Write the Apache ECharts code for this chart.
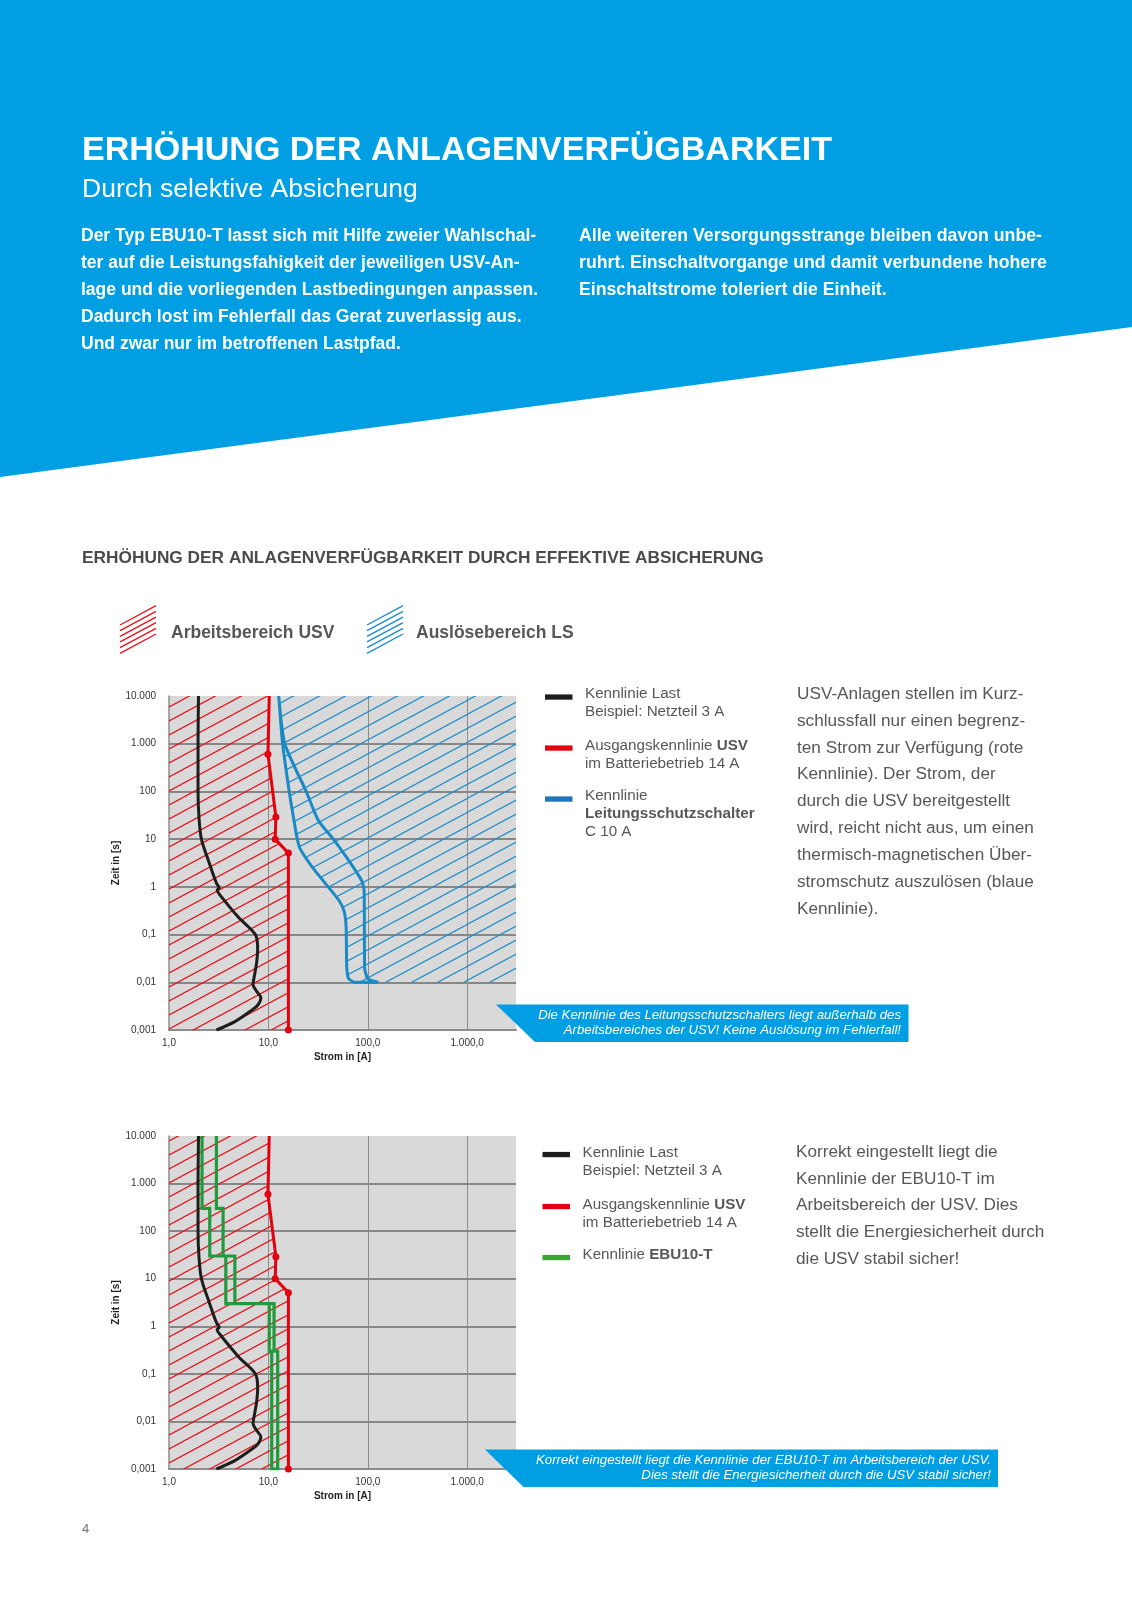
<!DOCTYPE html>
<html><head><meta charset="utf-8">
<script src="https://cdn.jsdelivr.net/npm/echarts@6/dist/echarts.min.js"></script>
<style>html,body{margin:0;padding:0;background:#fff}#c{width:1132px;height:1600px}</style>
</head><body><div id="c"></div>
<script>
// ---- axis ticks ----
const xTickLabels = ['1,0', '10,0', '100,0', '1.000,0'];          // exponents 0..3
const yTickLabels = ['0,001', '0,01', '0,1', '1', '10', '100', '1.000', '10.000']; // exponents -3..4
const xMin = 1, xMax = 3100, yMin = 0.001, yMax = 10000;
const lsBottom = 0.01;

// ---- load curve (Netzteil 3 A) ----
const loadCurrent = [1.98, 1.96, 1.96, 2.0, 2.12, 2.55, 3.0, 3.2, 3.05, 3.25, 5.0, 7.4, 7.8, 7.6, 7.2, 7.0, 7.6, 8.4, 7.8, 6.8, 4.6, 3.0];
const loadTime    = [10000, 1000, 100, 30, 10, 3.1, 1.2, 0.95, 0.85, 0.68, 0.23, 0.1, 0.05, 0.025, 0.013, 0.009, 0.0065, 0.0047, 0.0033, 0.0026, 0.0015, 0.001];

// ---- USV output characteristic ----
const usvCurrent = [10.2, 9.9, 11.9, 11.7, 15.9, 15.9];
const usvTime    = [10000, 600, 29, 10, 5.1, 0.001];

// ---- LS C10A band ----
const lsLowCurrent = [12.7, 13.9, 16.2, 17.8, 19.2, 20.7, 28, 40, 52, 58, 60.5, 61, 61.5, 64, 74];
const lsLowTime    = [10000, 1000, 100, 30, 12, 6.5, 2.5, 1.0, 0.5, 0.3, 0.15, 0.05, 0.02, 0.012, 0.01];
const lsHighCurrent = [12.7, 14.6, 24, 31.7, 45, 62, 80, 88, 92, 92.5, 93, 100, 127];
const lsHighTime    = [10000, 1000, 100, 25, 10, 4, 1.8, 1.27, 0.8, 0.1, 0.02, 0.012, 0.01];

// ---- EBU10-T band (left edge down, right edge up) ----
const ebuCurrent = [2.15, 2.15, 2.57, 2.57, 3.73, 3.73, 10.2, 10.2, 10.8, 10.8, 12.4, 12.4, 11.4, 11.4, 4.6, 4.6, 3.5, 3.5, 3.0, 3.0];
const ebuTime    = [10000, 300, 300, 30, 30, 3, 3, 0.3, 0.3, 0.001, 0.001, 0.3, 0.3, 3, 3, 30, 30, 300, 300, 10000];

const F = '"Liberation Sans", Arial, Helvetica, sans-serif';
const BLUE = '#009fe3';
const GRAYTXT = '#575756';

const pts = (xs, ys) => xs.map((x, i) => [x, ys[i]]);

function expLabel(v, labels, minExp) {
  const e = Math.log10(v), r = Math.round(e);
  if (Math.abs(e - r) > 1e-6) return '';
  const s = labels[r - minExp];
  return s === undefined ? '' : s;
}

function hatch(color, w) {
  const W = 26, H = 14;
  const cv = document.createElement('canvas'); cv.width = W; cv.height = H;
  const ctx = cv.getContext('2d');
  ctx.strokeStyle = color; ctx.lineWidth = w;
  [[0,0],[W,0],[-W,0],[0,H],[0,-H]].forEach(([dx,dy]) => {
    ctx.beginPath(); ctx.moveTo(dx, H + dy); ctx.lineTo(W + dx, dy); ctx.stroke();
  });
  return { image: cv, repeat: 'repeat' };
}
const redHatch = hatch('#e6141e', 1.25);
const blueHatch = hatch('#1b8dcc', 1.15);

function areaSeries(gi, poly, fill) {
  return {
    type: 'custom', xAxisIndex: gi, yAxisIndex: gi, silent: true, z: 1, data: [[1, 1]],
    renderItem: (params, api) => ({
      type: 'polygon',
      shape: { points: poly.map(p => api.coord(p)) },
      style: { fill: fill, stroke: 'none' }
    })
  };
}

function xAxisCfg(gi) {
  return {
    type: 'log', logBase: 10, gridIndex: gi, min: xMin, max: xMax,
    name: 'Strom in [A]', nameLocation: 'middle', nameGap: 22,
    nameTextStyle: { fontWeight: 'bold', fontSize: 10, color: '#222', fontFamily: F },
    axisLine: { show: true, onZero: false, lineStyle: { color: '#8c8c8c', width: 2 } },
    axisTick: { show: false },
    axisLabel: { margin: 8, fontSize: 10, color: '#333', fontFamily: F, formatter: v => expLabel(v, xTickLabels, 0) },
    splitLine: { show: true, showMinLine: false, showMaxLine: false, lineStyle: { color: '#8c8c8c', width: 1 } }
  };
}
function yAxisCfg(gi) {
  return {
    type: 'log', logBase: 10, gridIndex: gi, min: yMin, max: yMax,
    name: 'Zeit in [s]', nameLocation: 'middle', nameGap: 39, nameRotate: 90,
    nameTextStyle: { fontWeight: 'bold', fontSize: 10, color: '#222', fontFamily: F },
    axisLine: { show: true, onZero: false, lineStyle: { color: '#8c8c8c', width: 1.5 } },
    axisTick: { show: false },
    axisLabel: { margin: 13, fontSize: 10, color: '#333', fontFamily: F, formatter: v => expLabel(v, yTickLabels, -3) },
    splitLine: { show: true, showMinLine: false, showMaxLine: false, lineStyle: { color: '#878787', width: 2 } }
  };
}

function lineSeries(gi, data, color, extra) {
  return Object.assign({
    type: 'line', xAxisIndex: gi, yAxisIndex: gi, data: data, symbol: 'none', silent: true, z: 3,
    lineStyle: { color: color, width: 3 }, itemStyle: { color: color }
  }, extra || {});
}

const usvData = pts(usvCurrent, usvTime).map((p, i) => i === 0 ? { value: p, symbol: 'none' } : { value: p });
const redPoly = [[xMin, yMax]].concat(pts(usvCurrent, usvTime), [[xMin, yMin]]);
const lsLowPts = pts(lsLowCurrent, lsLowTime);
const lsHighPts = pts(lsHighCurrent, lsHighTime);
const bluePoly = lsLowPts.concat([[xMax, lsBottom], [xMax, yMax]]);
const lsBand = lsLowPts.concat(lsHighPts.slice().reverse());

const series = [
  areaSeries(0, redPoly, redHatch),
  areaSeries(0, bluePoly, blueHatch),
  lineSeries(0, pts(loadCurrent, loadTime), '#1d1d1b', { smooth: 0.3 }),
  lineSeries(0, lsBand, '#1a8ac6', { smooth: 0.2 }),
  lineSeries(0, usvData, '#e3000f', { symbol: 'circle', symbolSize: 7, showAllSymbol: true, z: 4 }),
  areaSeries(1, redPoly, redHatch),
  lineSeries(1, pts(loadCurrent, loadTime), '#1d1d1b', { smooth: 0.3 }),
  lineSeries(1, pts(ebuCurrent, ebuTime), '#1f9b3b', { lineStyle: { color: '#1f9b3b', width: 3.2, join: 'miter', cap: 'butt' } }),
  lineSeries(1, usvData, '#e3000f', { symbol: 'circle', symbolSize: 7, showAllSymbol: true, z: 4 })
];

// ---- graphic (page decoration / text) ----
function txt(x, y, text, font, fill, extra) {
  return Object.assign({ type: 'text', x: x, y: y, z: 50,
    style: Object.assign({ text: text, font: font, fill: fill, align: 'left', verticalAlign: 'top' }, extra || {}) });
}
function richTxt(x, y, text, size, lh) {
  const base = { fontSize: size, fontFamily: F, fill: GRAYTXT, lineHeight: lh };
  return { type: 'text', x: x, y: y, z: 50, style: { text: text, fill: GRAYTXT, fontSize: size, fontFamily: F, lineHeight: lh, verticalAlign: 'top',
    rich: { n: base, b: Object.assign({}, base, { fontWeight: 'bold' }) } } };
}
function hatchIcon(x0, color) {
  const arr = [];
  for (let i = 0; i < 6; i++) {
    arr.push({ type: 'line', z: 50, shape: { x1: x0, y1: 625 + i * 5.66, x2: x0 + 36, y2: 605.7 + i * 5.66 }, style: { stroke: color, lineWidth: 1.4 } });
  }
  return arr;
}
function bar(x, y, color) {
  return { type: 'rect', z: 50, shape: { x: x, y: y - 2.6, width: 27.5, height: 5.3 }, style: { fill: color } };
}

const elements = [
  { type: 'polygon', z: 0, shape: { points: [[0, 0], [1132, 0], [1132, 327], [0, 477]] }, style: { fill: BLUE } },
  txt(82, 150.5, 'ERHÖHUNG DER ANLAGENVERFÜGBARKEIT', 'bold 34px ' + F, '#fff', { verticalAlign: 'middle' }),
  txt(82, 189.5, 'Durch selektive Absicherung', '26.5px ' + F, '#fff', { verticalAlign: 'middle' }),
  txt(81, 222.5, 'Der Typ EBU10-T lasst sich mit Hilfe zweier Wahlschal-\nter auf die Leistungsfahigkeit der jeweiligen USV-An-\nlage und die vorliegenden Lastbedingungen anpassen.\nDadurch lost im Fehlerfall das Gerat zuverlassig aus.\nUnd zwar nur im betroffenen Lastpfad.', 'bold 17.5px ' + F, '#fff', { lineHeight: 27 }),
  txt(579, 222.5, 'Alle weiteren Versorgungsstrange bleiben davon unbe-\nruhrt. Einschaltvorgange und damit verbundene hohere\nEinschaltstrome toleriert die Einheit.', 'bold 17.7px ' + F, '#fff', { lineHeight: 27 }),
  txt(82, 558.5, 'ERHÖHUNG DER ANLAGENVERFÜGBARKEIT DURCH EFFEKTIVE ABSICHERUNG', 'bold 17.3px ' + F, '#4a4a49', { verticalAlign: 'middle' }),
  ...hatchIcon(120, '#e6141e'),
  ...hatchIcon(367, '#1b8dcc'),
  txt(171, 633, 'Arbeitsbereich USV', 'bold 17.5px ' + F, GRAYTXT, { verticalAlign: 'middle' }),
  txt(416, 633, 'Auslösebereich LS', 'bold 17.5px ' + F, GRAYTXT, { verticalAlign: 'middle' }),
  // legend chart 1
  bar(545, 697, '#1d1d1b'), bar(545, 748, '#e3000f'), bar(545, 799, '#1f74bb'),
  richTxt(585, 685, '{n|Kennlinie Last}\n{n|Beispiel: Netzteil 3 A}', 15.2, 18),
  richTxt(585, 737, '{n|Ausgangskennlinie }{b|USV}\n{n|im Batteriebetrieb 14 A}', 15.2, 18),
  richTxt(585, 787, '{n|Kennlinie}\n{b|Leitungsschutzschalter}\n{n|C 10 A}', 15.2, 18),
  txt(797, 680.6, 'USV-Anlagen stellen im Kurz-\nschlussfall nur einen begrenz-\nten Strom zur Verfügung (rote\nKennlinie). Der Strom, der\ndurch die USV bereitgestellt\nwird, reicht nicht aus, um einen\nthermisch-magnetischen Über-\nstromschutz auszulösen (blaue\nKennlinie).', '17.2px ' + F, GRAYTXT, { lineHeight: 26.9 }),
  // callout 1
  { type: 'polygon', z: 60, shape: { points: [[496, 1004.5], [908.5, 1004.5], [908.5, 1042], [535, 1042]] }, style: { fill: BLUE } },
  txt(901, 1008.3, 'Die Kennlinie des Leitungsschutzschalters liegt außerhalb des\nArbeitsbereiches der USV! Keine Auslösung im Fehlerfall!', 'italic 13.2px ' + F, '#fff', { align: 'right', lineHeight: 15, z: 61 }),
  // legend chart 2
  bar(542.5, 1154.5, '#1d1d1b'), bar(542.5, 1206.5, '#e3000f'), bar(542.5, 1257.5, '#3aa535'),
  richTxt(582.5, 1143.5, '{n|Kennlinie Last}\n{n|Beispiel: Netzteil 3 A}', 15.2, 18),
  richTxt(582.5, 1196, '{n|Ausgangskennlinie }{b|USV}\n{n|im Batteriebetrieb 14 A}', 15.2, 18),
  richTxt(582.5, 1246, '{n|Kennlinie }{b|EBU10-T}', 15.2, 18),
  txt(796, 1139, 'Korrekt eingestellt liegt die\nKennlinie der EBU10-T im\nArbeitsbereich der USV. Dies\nstellt die Energiesicherheit durch\ndie USV stabil sicher!', '17.2px ' + F, GRAYTXT, { lineHeight: 26.7 }),
  // callout 2
  { type: 'polygon', z: 60, shape: { points: [[485, 1449.5], [998, 1449.5], [998, 1487], [523.5, 1487]] }, style: { fill: BLUE } },
  txt(991, 1453.3, 'Korrekt eingestellt liegt die Kennlinie der EBU10-T im Arbeitsbereich der USV.\nDies stellt die Energiesicherheit durch die USV stabil sicher!', 'italic 13.2px ' + F, '#fff', { align: 'right', lineHeight: 15, z: 61 }),
  txt(82, 1529, '4', '13px ' + F, '#706f6f', { verticalAlign: 'middle' })
];
elements.forEach(e => { if (e.style && e.style.z) { e.z = e.style.z; delete e.style.z; } });

const chart = echarts.init(document.getElementById('c'), null, { renderer: 'canvas' });
chart.setOption({
  animation: false,
  backgroundColor: '#fff',
  grid: [
    { left: 169, top: 696, width: 347, height: 334, show: true, backgroundColor: '#d9d9d9', borderWidth: 0 },
    { left: 169, top: 1136, width: 347, height: 333, show: true, backgroundColor: '#d9d9d9', borderWidth: 0 }
  ],
  xAxis: [xAxisCfg(0), xAxisCfg(1)],
  yAxis: [yAxisCfg(0), yAxisCfg(1)],
  series: series,
  graphic: { elements: elements }
});
</script>
</body></html>
